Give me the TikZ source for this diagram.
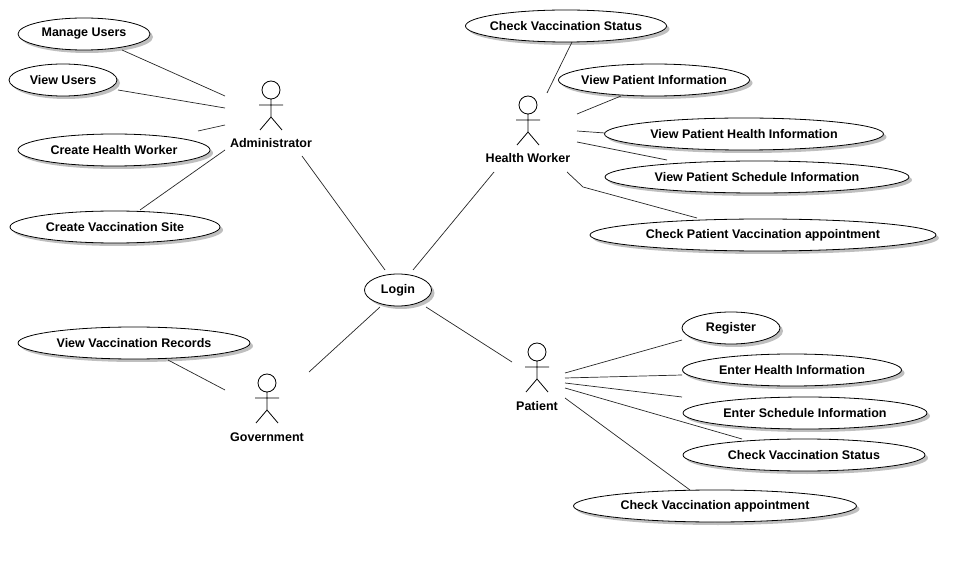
\documentclass[tikz,border=0pt]{standalone}
\usepackage{fontspec}
\setmainfont{Liberation Sans}
\usetikzlibrary{shapes.geometric,shadows}
\begin{document}
\begin{tikzpicture}[x=1pt,y=-1pt,
 uc/.style={ellipse,draw=black,fill=white,line width=0.8pt,inner ysep=0pt,inner xsep=-30pt,font=\bfseries\fontsize{12.5}{14}\selectfont,
   drop shadow={shadow xshift=3pt,shadow yshift=-3pt,fill=black!25,opacity=1}},
 ln/.style={draw=black!85,line width=0.7pt},
 lab/.style={font=\bfseries\fontsize{12.5}{14}\selectfont},
 actor/.pic={\draw[line width=0.8pt] (0,0) circle (9) (0,9)--(0,27) (-12,15)--(12,15) (-11,40)--(0,27)--(11,40);}]
\useasboundingbox (0,0) rectangle (975,561);
\newcommand{\uc}[5]{\node[uc,minimum width=#3,minimum height=32] (#1) at (#2) {#5};}
\uc{mu}{84,34}{132}{}{Manage Users}
\uc{vu}{63,80}{108}{}{View Users}
\uc{chw}{114,150}{192}{}{Create Health Worker}
\uc{cvs}{115,227}{210}{}{Create Vaccination Site}
\uc{vvr}{134,343}{232}{}{View Vaccination Records}
\uc{login}{398,290}{67}{}{Login}
\uc{cvst}{566,26}{201}{}{Check Vaccination Status}
\uc{vpi}{654,80}{191}{}{View Patient Information}
\uc{vphi}{744,134}{279}{}{View Patient Health Information}
\uc{vpsi}{757,177}{304}{}{View Patient Schedule Information}
\uc{cpva}{763,235}{346}{}{Check Patient Vaccination appointment}
\uc{reg}{731,328}{98}{}{Register}
\uc{ehi}{792,370}{219}{}{Enter Health Information}
\uc{esi}{805,413}{244}{}{Enter Schedule Information}
\uc{cvsb}{804,455}{242}{}{Check Vaccination Status}
\uc{cva}{715,506}{283}{}{Check Vaccination appointment}
\pic at (271,90) {actor}; \node[lab] (admin) at (271,143) {Administrator};
\pic at (528,105) {actor}; \node[lab] (hw) at (528,158) {Health Worker};
\pic at (267,383) {actor}; \node[lab] (gov) at (267,437) {Government};
\pic at (537,352) {actor}; \node[lab] (pat) at (537,406) {Patient};
\foreach \a/\b/\c/\d [count=\i] in {122/50/225/96, 118/90/225/108, 198/131/225/125, 140/210/225/150,
 302/156/385/270, 494/172/413/270, 309/372/380/307, 426/307/512/362, 168/360/225/390,
 572/42/547/93, 621/96/577/114, 577/131/605/133, 577/142/667/160,
 565/373/682/340, 565/378/682/375, 565/383/682/397, 565/388/742/439, 565/398/690/490}{
 \coordinate (s\i) at (\a,\b); \coordinate (e\i) at (\c,\d); \draw[ln] (s\i)--(e\i);}
\coordinate (p1) at (567,172); \coordinate (p2) at (583,187); \coordinate (p3) at (697,218);
\draw[ln] (p1)--(p2)--(p3);
\end{tikzpicture}
\end{document}
